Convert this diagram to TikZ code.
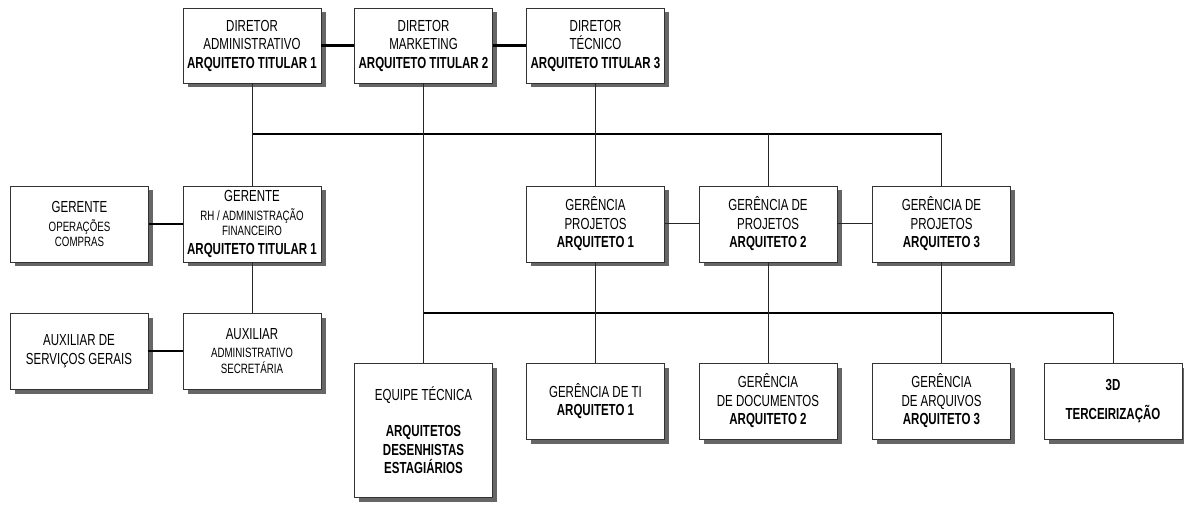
\documentclass[tikz,border=0pt]{standalone}
\usepackage{fontspec}
\newfontfamily\narrowsans[FakeStretch=0.72]{Liberation Sans}
% smaller second-level text inside a box
\newcommand\smalltxt[1]{{\fontsize{13.5}{15}\selectfont #1}}
% a box with its grey drop shadow: name, position, extra options, text
\newcommand\orgbox[4]{%
  \node[box, #3, boxshadow] at ([xshift=4.5pt,yshift=-4.5pt]#2) {};
  \node[box, #3] (#1) at (#2) {#4};}
\begin{document}
\begin{tikzpicture}[x=1pt,y=-1pt,
  box/.style={draw=black!80, line width=0.9pt, fill=white,
    minimum width=138pt, minimum height=76pt, inner sep=0pt, align=center,
    font=\narrowsans\fontsize{16}{18.5}\selectfont},
  boxshadow/.style={draw=none, fill=black!60},
  link/.style={draw=black!85, line width=1pt},
  mainlink/.style={draw=black, line width=2.4pt}]
\useasboundingbox (0,0) rectangle (1184,505);

% directors
\orgbox{dadm}{252,45.5}{minimum height=75pt}{DIRETOR\\ADMINISTRATIVO\\\textbf{ARQUITETO TITULAR 1}}
\orgbox{dmkt}{423.5,45.5}{minimum height=75pt}{DIRETOR\\MARKETING\\\textbf{ARQUITETO TITULAR 2}}
\orgbox{dtec}{595.5,45.5}{minimum height=75pt}{DIRETOR\\TÉCNICO\\\textbf{ARQUITETO TITULAR 3}}

% administration branch
\orgbox{gop}{79.5,224}{}{GERENTE\\\smalltxt{OPERAÇÕES}\\[-3pt]\smalltxt{COMPRAS}}
\orgbox{grh}{252,224}{}{GERENTE\\\smalltxt{RH / ADMINISTRAÇÃO}\\[-3pt]\smalltxt{FINANCEIRO}\\\textbf{ARQUITETO TITULAR 1}}
\orgbox{auxsg}{79,351}{}{AUXILIAR DE\\SERVIÇOS GERAIS}
\orgbox{auxadm}{252,351}{}{AUXILIAR\\\smalltxt{ADMINISTRATIVO}\\[-3pt]\smalltxt{SECRETÁRIA}}

% project management
\orgbox{gp1}{595.5,224}{}{GERÊNCIA\\PROJETOS\\\textbf{ARQUITETO 1}}
\orgbox{gp2}{768,224}{}{GERÊNCIA DE\\PROJETOS\\\textbf{ARQUITETO 2}}
\orgbox{gp3}{941.5,224}{}{GERÊNCIA DE\\PROJETOS\\\textbf{ARQUITETO 3}}

% lower level
\orgbox{equipe}{423.5,430}{minimum height=134pt}{EQUIPE TÉCNICA\\[18pt]\textbf{ARQUITETOS}\\\textbf{DESENHISTAS}\\\textbf{ESTAGIÁRIOS}}
\orgbox{gti}{595.5,401}{}{GERÊNCIA DE TI\\\textbf{ARQUITETO 1}}
\orgbox{gdoc}{768,401}{}{GERÊNCIA\\DE DOCUMENTOS\\\textbf{ARQUITETO 2}}
\orgbox{garq}{941.5,401}{}{GERÊNCIA\\DE ARQUIVOS\\\textbf{ARQUITETO 3}}
\orgbox{g3d}{1113,401}{}{\textbf{3D}\\[10pt]\textbf{TERCEIRIZAÇÃO}}

% bus levels
\coordinate (busA) at (0,134);
\coordinate (busB) at (0,313);

% heavy connectors
\draw[mainlink] (dadm.east) -- (dmkt.west);
\draw[mainlink] (dmkt.east) -- (dtec.west);
\draw[mainlink] (grh.north |- busA) -- (gp3.north |- busA);
\draw[mainlink] (equipe.north |- busB) -- (g3d.north |- busB);
\draw[mainlink] (gop.east) -- (grh.west);
\draw[mainlink] (auxsg.east) -- (auxadm.west);

% light connectors
\draw[link] (dadm.south) -- (grh.north);
\draw[link] (grh.south) -- (auxadm.north);
\draw[link] (dmkt.south) -- (equipe.north);
\draw[link] (dtec.south) -- (gp1.north);
\draw[link] (gp2.north |- busA) -- (gp2.north);
\draw[link] (gp3.north |- busA) -- (gp3.north);
\draw[link] (gp1.east) -- (gp2.west);
\draw[link] (gp2.east) -- (gp3.west);
\draw[link] (gp1.south) -- (gti.north);
\draw[link] (gp2.south) -- (gdoc.north);
\draw[link] (gp3.south) -- (garq.north);
\draw[link] (g3d.north |- busB) -- (g3d.north);
\end{tikzpicture}
\end{document}
